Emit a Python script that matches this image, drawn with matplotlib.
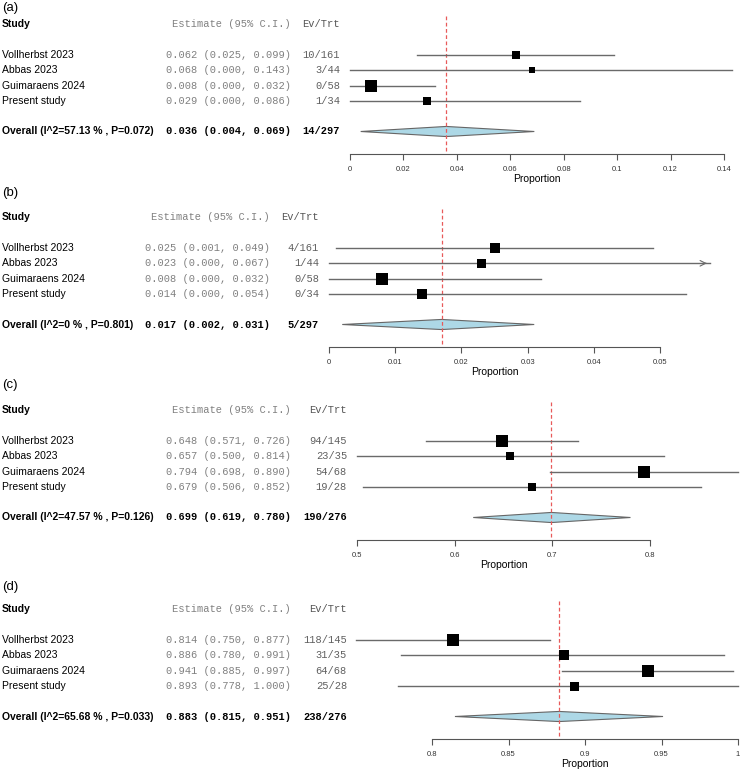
import matplotlib
matplotlib.use('Agg')
import matplotlib.pyplot as plt
import matplotlib.transforms as mtransforms
from matplotlib.patches import Polygon

studies = ['Vollherbst 2023', 'Abbas 2023', 'Guimaraens 2024', 'Present study']

# panel (a)
a_est = [0.062, 0.068, 0.008, 0.029]
a_lo = [0.025, 0.000, 0.000, 0.000]
a_hi = [0.099, 0.143, 0.032, 0.086]
a_ev = ['10/161', '3/44', '0/58', '1/34']
a_box = [8, 6, 12.7, 7.3]
a_overall = [0.036, 0.004, 0.069]
a_label = 'Overall (I^2=57.13 % , P=0.072)'
a_total = '14/297'
a_ticks = [0, 0.02, 0.04, 0.06, 0.08, 0.1, 0.12, 0.14]

# panel (b)
b_est = [0.025, 0.023, 0.008, 0.014]
b_lo = [0.001, 0.000, 0.000, 0.000]
b_hi = [0.049, 0.067, 0.032, 0.054]
b_ev = ['4/161', '1/44', '0/58', '0/34']
b_box = [9.7, 9, 12, 10]
b_overall = [0.017, 0.002, 0.031]
b_label = 'Overall (I^2=0 % , P=0.801)'
b_total = '5/297'
b_ticks = [0, 0.01, 0.02, 0.03, 0.04, 0.05]

# panel (c)
c_est = [0.648, 0.657, 0.794, 0.679]
c_lo = [0.571, 0.500, 0.698, 0.506]
c_hi = [0.726, 0.814, 0.890, 0.852]
c_ev = ['94/145', '23/35', '54/68', '19/28']
c_box = [12.3, 8.7, 11.7, 8.3]
c_overall = [0.699, 0.619, 0.780]
c_label = 'Overall (I^2=47.57 % , P=0.126)'
c_total = '190/276'
c_ticks = [0.5, 0.6, 0.7, 0.8]

# panel (d)
d_est = [0.814, 0.886, 0.941, 0.893]
d_lo = [0.750, 0.780, 0.885, 0.778]
d_hi = [0.877, 0.991, 0.997, 1.000]
d_ev = ['118/145', '31/35', '64/68', '25/28']
d_box = [12.3, 9.7, 12.3, 9]
d_overall = [0.883, 0.815, 0.951]
d_label = 'Overall (I^2=65.68 % , P=0.033)'
d_total = '238/276'
d_ticks = [0.8, 0.85, 0.9, 0.95, 1]

W, H = 740, 771
fig = plt.figure(figsize=(W / 100, H / 100), dpi=100)

ROW = 15.3           # pixels per row
TOP = 2.55           # rows above first study
BOT = 6.5            # axis line position in rows
AX_L = 300           # left pixel of plot axes

# letter, data..., px of first tick, px of last tick, px of first row,
# right edge of estimate column, right edge of ev column, arrow clip, letter y px
panels = [
    ('(a)', a_est, a_lo, a_hi, a_ev, a_box, a_overall, a_label, a_total, a_ticks,
     350, 724, 55, 291, 340, None, 8),
    ('(b)', b_est, b_lo, b_hi, b_ev, b_box, b_overall, b_label, b_total, b_ticks,
     329, 660, 248, 270, 319, 0.0575, 193),
    ('(c)', c_est, c_lo, c_hi, c_ev, c_box, c_overall, c_label, c_total, c_ticks,
     357, 650, 441, 291, 347, None, 385),
    ('(d)', d_est, d_lo, d_hi, d_ev, d_box, d_overall, d_label, d_total, d_ticks,
     432, 738, 640, 291, 347, None, 587),
]

sans = 'Liberation Sans'
mono = 'Liberation Mono'

for (letter, est, lo, hi, ev, box, ov, ovlab, total, ticks,
     x0, x1, r1, est_r, ev_r, clip, let_y) in panels:
    top_px = r1 - TOP * ROW
    bot_px = r1 + BOT * ROW
    ax = fig.add_axes([AX_L / W, 1 - bot_px / H, (W - AX_L) / W,
                       (bot_px - top_px) / H])
    ax.patch.set_visible(False)
    vmin, vmax = ticks[0], ticks[-1]
    s = (vmax - vmin) / (x1 - x0)
    ax.set_xlim(vmin - (x0 - AX_L) * s, vmin + (W - x0) * s)
    ax.set_ylim(BOT, -TOP)

    for sp in ['top', 'right', 'left']:
        ax.spines[sp].set_visible(False)
    ax.spines['bottom'].set_bounds(vmin, vmax)
    ax.spines['bottom'].set_color('#555555')
    ax.set_yticks([])
    ax.set_xticks(ticks)
    ax.set_xticklabels(['%g' % t for t in ticks], fontsize=5.5, color='#333333',
                       family=sans)
    ax.tick_params(axis='x', length=4, width=0.8, color='#555555', pad=4)
    ax.text((vmin + vmax) / 2, BOT + 24.5 / ROW, 'Proportion', fontsize=7.5,
            family=sans, ha='center', va='center', clip_on=False)

    # reference line
    ax.plot([ov[0], ov[0]], [-TOP, BOT], ls=(0, (3, 2)), color='#e85a5a',
            lw=0.9)

    # studies
    for i in range(len(est)):
        if clip is not None and hi[i] > clip:
            ax.plot([lo[i], clip], [i, i], color='#6a6a6a', lw=1)
            ax.annotate('', xy=(clip, i), xytext=(clip - 0.001, i),
                        arrowprops=dict(arrowstyle='->', color='#6a6a6a', lw=0.8))
        else:
            ax.plot([lo[i], hi[i]], [i, i], color='#6a6a6a', lw=1)
        ax.plot(est[i], i, marker='s', color='black', markersize=box[i] * 0.72,
                markeredgewidth=0)

    # overall diamond
    yo = len(est) + 1
    h = 0.33
    dia = Polygon([(ov[1], yo), (ov[0], yo - h), (ov[2], yo), (ov[0], yo + h)],
                  closed=True, facecolor='#add8e6', edgecolor='#666666', lw=0.8)
    ax.add_patch(dia)

    # left-hand text
    tr = mtransforms.blended_transform_factory(fig.transFigure, ax.transData)
    fig.text(2 / W, 1 - let_y / H, letter, fontsize=9.5, family=sans,
             va='center')
    ax.text(2 / W, -2, 'Study', transform=tr, fontsize=7.5, family=sans,
            weight='bold', va='center')
    ax.text(est_r / W, -2, 'Estimate (95% C.I.)', transform=tr, fontsize=7.5,
            family=mono, color='#808080', ha='right', va='center')
    ax.text(ev_r / W, -2, 'Ev/Trt', transform=tr, fontsize=7.5, family=mono,
            color='#555555', ha='right', va='center')
    for i in range(len(est)):
        ax.text(2 / W, i, studies[i], transform=tr, fontsize=7.5, family=sans,
                va='center')
        ax.text(est_r / W, i, '%.3f (%.3f, %.3f)' % (est[i], lo[i], hi[i]),
                transform=tr, fontsize=7.5, family=mono, color='#808080',
                ha='right', va='center')
        ax.text(ev_r / W, i, ev[i], transform=tr, fontsize=7.5, family=mono,
                color='#606060', ha='right', va='center')
    ax.text(2 / W, yo, ovlab, transform=tr, fontsize=7.5, family=sans,
            weight='bold', va='center')
    ax.text(est_r / W, yo, '%.3f (%.3f, %.3f)' % tuple(ov), transform=tr,
            fontsize=7.5, family=mono, weight='bold', ha='right', va='center')
    ax.text(ev_r / W, yo, total, transform=tr, fontsize=7.5, family=mono,
            weight='bold', ha='right', va='center')

fig.savefig('out.png', dpi=100)
